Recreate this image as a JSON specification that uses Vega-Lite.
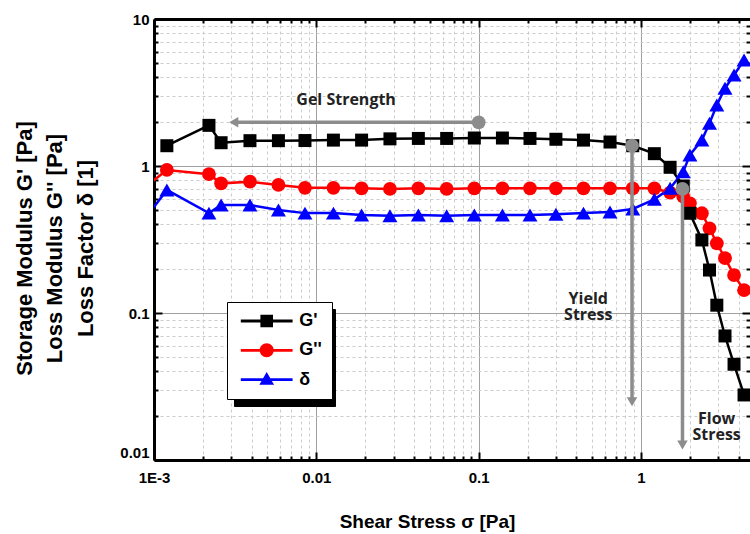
{
  "$schema": "https://vega.github.io/schema/vega-lite/v6.json",
  "autosize": {"type": "none"},
  "padding": {"left": 154, "top": 19, "right": 0, "bottom": 74},
  "width": 596,
  "height": 441,
  "background": "white",
  "config": {"view": {"stroke": null}, "font": "Liberation Sans"},
  "datasets": {
    "series": [
      {"s": "G'", "x": 0.0012, "y": 1.374}, {"s": "G'", "x": 0.00218, "y": 1.89}, {"s": "G'", "x": 0.00259, "y": 1.44},
      {"s": "G'", "x": 0.0039, "y": 1.487}, {"s": "G'", "x": 0.00584, "y": 1.487}, {"s": "G'", "x": 0.00851, "y": 1.49},
      {"s": "G'", "x": 0.01274, "y": 1.5}, {"s": "G'", "x": 0.019, "y": 1.5}, {"s": "G'", "x": 0.0284, "y": 1.53},
      {"s": "G'", "x": 0.0425, "y": 1.54}, {"s": "G'", "x": 0.0635, "y": 1.54}, {"s": "G'", "x": 0.094, "y": 1.55},
      {"s": "G'", "x": 0.14, "y": 1.55}, {"s": "G'", "x": 0.207, "y": 1.54}, {"s": "G'", "x": 0.299, "y": 1.52},
      {"s": "G'", "x": 0.442, "y": 1.5}, {"s": "G'", "x": 0.644, "y": 1.456}, {"s": "G'", "x": 0.889, "y": 1.374},
      {"s": "G'", "x": 1.208, "y": 1.213}, {"s": "G'", "x": 1.51, "y": 0.98}, {"s": "G'", "x": 1.82, "y": 0.731},
      {"s": "G'", "x": 2.0, "y": 0.477}, {"s": "G'", "x": 2.37, "y": 0.314}, {"s": "G'", "x": 2.64, "y": 0.196},
      {"s": "G'", "x": 2.93, "y": 0.113}, {"s": "G'", "x": 3.29, "y": 0.0698}, {"s": "G'", "x": 3.74, "y": 0.0448},
      {"s": "G'", "x": 4.31, "y": 0.0277},
      {"s": "G''", "x": 0.00081, "y": 0.665}, {"s": "G''", "x": 0.0012, "y": 0.94}, {"s": "G''", "x": 0.00218, "y": 0.88},
      {"s": "G''", "x": 0.00259, "y": 0.762}, {"s": "G''", "x": 0.0039, "y": 0.782}, {"s": "G''", "x": 0.00584, "y": 0.743},
      {"s": "G''", "x": 0.00851, "y": 0.711}, {"s": "G''", "x": 0.01274, "y": 0.711}, {"s": "G''", "x": 0.019, "y": 0.705},
      {"s": "G''", "x": 0.0284, "y": 0.698}, {"s": "G''", "x": 0.0425, "y": 0.705}, {"s": "G''", "x": 0.0635, "y": 0.698},
      {"s": "G''", "x": 0.094, "y": 0.705}, {"s": "G''", "x": 0.14, "y": 0.705}, {"s": "G''", "x": 0.207, "y": 0.705},
      {"s": "G''", "x": 0.299, "y": 0.705}, {"s": "G''", "x": 0.442, "y": 0.705}, {"s": "G''", "x": 0.644, "y": 0.705},
      {"s": "G''", "x": 0.889, "y": 0.705}, {"s": "G''", "x": 1.208, "y": 0.705}, {"s": "G''", "x": 1.51, "y": 0.658},
      {"s": "G''", "x": 1.82, "y": 0.618}, {"s": "G''", "x": 2.0, "y": 0.557}, {"s": "G''", "x": 2.37, "y": 0.477},
      {"s": "G''", "x": 2.64, "y": 0.377}, {"s": "G''", "x": 2.93, "y": 0.298}, {"s": "G''", "x": 3.29, "y": 0.236},
      {"s": "G''", "x": 3.74, "y": 0.181}, {"s": "G''", "x": 4.31, "y": 0.143},
      {"s": "δ", "x": 0.00081, "y": 0.386}, {"s": "δ", "x": 0.0012, "y": 0.687}, {"s": "δ", "x": 0.00218, "y": 0.478},
      {"s": "δ", "x": 0.00259, "y": 0.543}, {"s": "δ", "x": 0.0039, "y": 0.543}, {"s": "δ", "x": 0.00584, "y": 0.502},
      {"s": "δ", "x": 0.00851, "y": 0.478}, {"s": "δ", "x": 0.01274, "y": 0.478}, {"s": "δ", "x": 0.019, "y": 0.464},
      {"s": "δ", "x": 0.0284, "y": 0.458}, {"s": "δ", "x": 0.0425, "y": 0.464}, {"s": "δ", "x": 0.0635, "y": 0.458},
      {"s": "δ", "x": 0.094, "y": 0.464}, {"s": "δ", "x": 0.14, "y": 0.464}, {"s": "δ", "x": 0.207, "y": 0.464},
      {"s": "δ", "x": 0.299, "y": 0.47}, {"s": "δ", "x": 0.442, "y": 0.478}, {"s": "δ", "x": 0.644, "y": 0.487},
      {"s": "δ", "x": 0.889, "y": 0.51}, {"s": "δ", "x": 1.208, "y": 0.593}, {"s": "δ", "x": 1.51, "y": 0.705},
      {"s": "δ", "x": 1.82, "y": 0.915}, {"s": "δ", "x": 2.0, "y": 1.19}, {"s": "δ", "x": 2.37, "y": 1.5},
      {"s": "δ", "x": 2.64, "y": 1.95}, {"s": "δ", "x": 2.93, "y": 2.6}, {"s": "δ", "x": 3.29, "y": 3.38},
      {"s": "δ", "x": 3.74, "y": 4.16}, {"s": "δ", "x": 4.31, "y": 5.26}
    ],
    "arrows": [
      {"x": 0.1, "y": 1.983, "x2": 0.0031, "y2": 1.983, "head": "left"},
      {"x": 0.88, "y": 1.374, "x2": 0.88, "y2": 0.0249, "head": "down"},
      {"x": 1.8, "y": 0.698, "x2": 1.8, "y2": 0.01265, "head": "down"}
    ],
    "notes": [
      {"t": ["Gel Strength"], "x": 0.01525, "y": 2.81},
      {"t": ["Yield", "Stress"], "x": 0.473, "y": 0.1245},
      {"t": ["Flow", "Stress"], "x": 2.92, "y": 0.019}
    ]
  },
  "resolve": {"axis": {"x": "independent", "y": "independent"}},
  "layer": [
    {
      "data": {"name": "series"},
      "transform": [{"filter": {"field": "s", "equal": "G''"}}],
      "mark": {"type": "line", "clip": true, "strokeWidth": 2.5, "color": "#ff0000"},
      "encoding": {
        "x": {
          "field": "x", "type": "quantitative",
          "scale": {"type": "log", "domain": [0.001, 4.69], "nice": false},
          "axis": {
            "orient": "bottom",
            "values": [0.001, 0.002, 0.003, 0.004, 0.005, 0.006, 0.007, 0.008, 0.009, 0.01, 0.02, 0.03, 0.04, 0.05, 0.06, 0.07, 0.08, 0.09, 0.1, 0.2, 0.3, 0.4, 0.5, 0.6, 0.7, 0.8, 0.9, 1, 2, 3, 4],
            "labelExpr": "abs(log(datum.value)/LN10 - round(log(datum.value)/LN10)) < 0.01 ? (datum.value < 0.0015 ? '1E-3' : format(datum.value, '~g')) : ''",
            "labelOverlap": false,
            "labelFlush": false,
            "labelFont": "Liberation Sans", "labelFontSize": 15, "labelFontWeight": "bold", "labelColor": "black",
            "labelPadding": 18,
            "domainColor": "black", "domainWidth": 3,
            "tickColor": "black", "tickWidth": 2,
            "tickSize": {"condition": {"test": "abs(log(datum.value)/LN10 - round(log(datum.value)/LN10)) < 0.01", "value": -8}, "value": -4},
            "grid": true,
            "gridColor": {"condition": {"test": "abs(log(datum.value)/LN10 - round(log(datum.value)/LN10)) < 0.01", "value": "#a0a0a0"}, "value": "#cccccc"},
            "gridDash": {"condition": {"test": "abs(log(datum.value)/LN10 - round(log(datum.value)/LN10)) < 0.01", "value": []}, "value": [3, 3]},
            "gridWidth": 1,
            "title": "Shear Stress σ [Pa]",
            "titleFont": "Liberation Sans", "titleFontSize": 19, "titleFontWeight": "bold", "titleColor": "black",
            "titleX": 273, "titleY": 67, "titleAlign": "center", "titleBaseline": "alphabetic"
          }
        },
        "y": {
          "field": "y", "type": "quantitative",
          "scale": {"type": "log", "domain": [0.01, 10], "nice": false},
          "axis": {
            "orient": "left",
            "values": [0.01, 0.02, 0.03, 0.04, 0.05, 0.06, 0.07, 0.08, 0.09, 0.1, 0.2, 0.3, 0.4, 0.5, 0.6, 0.7, 0.8, 0.9, 1, 2, 3, 4, 5, 6, 7, 8, 9, 10],
            "labelExpr": "abs(log(datum.value)/LN10 - round(log(datum.value)/LN10)) < 0.01 ? format(datum.value, '~g') : ''",
            "labelOverlap": false,
            "labelFlush": false,
            "labelFont": "Liberation Sans", "labelFontSize": 15, "labelFontWeight": "bold", "labelColor": "black",
            "labelPadding": 13,
            "labelBaseline": {"condition": {"test": "datum.value < 0.015", "value": "bottom"}, "value": "middle"},
            "domainColor": "black", "domainWidth": 3,
            "tickColor": "black", "tickWidth": 2,
            "tickSize": {"condition": {"test": "abs(log(datum.value)/LN10 - round(log(datum.value)/LN10)) < 0.01", "value": -8}, "value": -4},
            "grid": true,
            "gridColor": {"condition": {"test": "abs(log(datum.value)/LN10 - round(log(datum.value)/LN10)) < 0.01", "value": "#a0a0a0"}, "value": "#cccccc"},
            "gridDash": {"condition": {"test": "abs(log(datum.value)/LN10 - round(log(datum.value)/LN10)) < 0.01", "value": []}, "value": [3, 3]},
            "gridWidth": 1,
            "title": ["Storage Modulus G'  [Pa]", "Loss Modulus G''  [Pa]", "Loss Factor δ  [1]"],
            "titleFont": "Liberation Sans", "titleFontSize": 22, "titleFontWeight": "bold", "titleColor": "black",
            "titleLineHeight": 30.5,
            "titleX": -130, "titleY": 229, "titleAngle": -90, "titleAlign": "center", "titleBaseline": "middle"
          }
        }
      }
    },
    {
      "data": {"name": "series"},
      "transform": [{"filter": {"field": "s", "equal": "G'"}}],
      "mark": {"type": "line", "clip": true, "strokeWidth": 2.5, "color": "#000000"},
      "encoding": {
        "x": {"field": "x", "type": "quantitative", "scale": {"type": "log", "domain": [0.001, 4.69], "nice": false}, "axis": null},
        "y": {"field": "y", "type": "quantitative", "scale": {"type": "log", "domain": [0.01, 10], "nice": false}, "axis": null}
      }
    },
    {
      "data": {"name": "series"},
      "transform": [{"filter": {"field": "s", "equal": "δ"}}],
      "mark": {"type": "line", "clip": true, "strokeWidth": 2.5, "color": "#0000ff"},
      "encoding": {
        "x": {"field": "x", "type": "quantitative", "scale": {"type": "log", "domain": [0.001, 4.69], "nice": false}, "axis": null},
        "y": {"field": "y", "type": "quantitative", "scale": {"type": "log", "domain": [0.01, 10], "nice": false}, "axis": null}
      }
    },
    {
      "data": {"name": "series"},
      "transform": [{"filter": {"field": "s", "equal": "G''"}}],
      "mark": {"type": "point", "shape": "circle", "filled": true, "opacity": 1, "color": "#ff0000", "size": 190, "clip": true},
      "encoding": {
        "x": {"field": "x", "type": "quantitative", "scale": {"type": "log", "domain": [0.001, 4.69], "nice": false}, "axis": null},
        "y": {"field": "y", "type": "quantitative", "scale": {"type": "log", "domain": [0.01, 10], "nice": false}, "axis": null}
      }
    },
    {
      "data": {"name": "series"},
      "transform": [{"filter": {"field": "s", "equal": "G'"}}],
      "mark": {"type": "point", "shape": "square", "filled": true, "opacity": 1, "color": "#000000", "size": 169, "clip": true},
      "encoding": {
        "x": {"field": "x", "type": "quantitative", "scale": {"type": "log", "domain": [0.001, 4.69], "nice": false}, "axis": null},
        "y": {"field": "y", "type": "quantitative", "scale": {"type": "log", "domain": [0.01, 10], "nice": false}, "axis": null}
      }
    },
    {
      "data": {"name": "series"},
      "transform": [{"filter": {"field": "s", "equal": "δ"}}],
      "mark": {"type": "point", "shape": "triangle-up", "filled": true, "opacity": 1, "color": "#0000ff", "size": 225, "clip": true},
      "encoding": {
        "x": {"field": "x", "type": "quantitative", "scale": {"type": "log", "domain": [0.001, 4.69], "nice": false}, "axis": null},
        "y": {"field": "y", "type": "quantitative", "scale": {"type": "log", "domain": [0.01, 10], "nice": false}, "axis": null}
      }
    },
    {
      "data": {"name": "arrows"},
      "mark": {"type": "rule", "color": "#8c8c8c", "strokeWidth": 3.5},
      "encoding": {
        "x": {"field": "x", "type": "quantitative", "scale": {"type": "log", "domain": [0.001, 4.69], "nice": false}, "axis": null},
        "y": {"field": "y", "type": "quantitative", "scale": {"type": "log", "domain": [0.01, 10], "nice": false}, "axis": null},
        "x2": {"field": "x2"},
        "y2": {"field": "y2"}
      }
    },
    {
      "data": {"name": "arrows"},
      "mark": {"type": "point", "shape": "circle", "filled": true, "opacity": 1, "color": "#8c8c8c", "size": 190},
      "encoding": {
        "x": {"field": "x", "type": "quantitative", "scale": {"type": "log", "domain": [0.001, 4.69], "nice": false}, "axis": null},
        "y": {"field": "y", "type": "quantitative", "scale": {"type": "log", "domain": [0.01, 10], "nice": false}, "axis": null}
      }
    },
    {
      "data": {"name": "arrows"},
      "transform": [{"filter": {"field": "head", "equal": "left"}}],
      "mark": {"type": "point", "shape": "triangle-left", "filled": true, "opacity": 1, "color": "#8c8c8c", "size": 110},
      "encoding": {
        "x": {"field": "x2", "type": "quantitative", "scale": {"type": "log", "domain": [0.001, 4.69], "nice": false}, "axis": null},
        "y": {"field": "y2", "type": "quantitative", "scale": {"type": "log", "domain": [0.01, 10], "nice": false}, "axis": null}
      }
    },
    {
      "data": {"name": "arrows"},
      "transform": [{"filter": {"field": "head", "equal": "down"}}],
      "mark": {"type": "point", "shape": "triangle-down", "filled": true, "opacity": 1, "color": "#8c8c8c", "size": 110},
      "encoding": {
        "x": {"field": "x2", "type": "quantitative", "scale": {"type": "log", "domain": [0.001, 4.69], "nice": false}, "axis": null},
        "y": {"field": "y2", "type": "quantitative", "scale": {"type": "log", "domain": [0.01, 10], "nice": false}, "axis": null}
      }
    },
    {
      "data": {"name": "notes"},
      "mark": {"type": "text", "font": "Open Sans", "fontSize": 16, "fontWeight": "bold", "color": "#222222", "align": "center", "baseline": "middle", "lineHeight": 16},
      "encoding": {
        "x": {"field": "x", "type": "quantitative", "scale": {"type": "log", "domain": [0.001, 4.69], "nice": false}, "axis": null},
        "y": {"field": "y", "type": "quantitative", "scale": {"type": "log", "domain": [0.01, 10], "nice": false}, "axis": null},
        "text": {"field": "t"}
      }
    },
    {
      "data": {"name": "series"},
      "mark": {"type": "point", "filled": true, "opacity": 0},
      "encoding": {
        "x": {"field": "x", "type": "quantitative", "scale": {"type": "log", "domain": [0.001, 4.69], "nice": false}, "axis": null},
        "y": {"field": "y", "type": "quantitative", "scale": {"type": "log", "domain": [0.01, 10], "nice": false}, "axis": null},
        "size": {
          "field": "s", "type": "ordinal",
          "scale": {"domain": ["G'.", "G''.", "δ."], "range": [196, 196, 196]},
          "legend": {"orient": "none", "legendX": 80, "legendY": 290, "zindex": 1, "title": null, "fillColor": "black", "strokeColor": "black", "padding": 10, "symbolOffset": 20.7, "labelOffset": 41.5, "rowPadding": 11.3, "symbolSize": 196, "symbolType": "M-3.7,-0.2H3.7V0.2H-3.7Z", "symbolStrokeWidth": 0, "symbolOpacity": 1, "symbolFillColor": "black", "labelExpr": "' '", "labelFont": "Liberation Sans", "labelFontSize": 18, "labelFontWeight": "bold", "labelColor": "black"}
        }
      }
    },
    {
      "data": {"name": "series"},
      "mark": {"type": "point", "filled": true, "opacity": 0},
      "encoding": {
        "x": {
          "field": "x", "type": "quantitative",
          "scale": {"type": "log", "domain": [0.001, 4.69], "nice": false},
          "axis": {
            "orient": "top",
            "values": [0.001, 0.002, 0.003, 0.004, 0.005, 0.006, 0.007, 0.008, 0.009, 0.01, 0.02, 0.03, 0.04, 0.05, 0.06, 0.07, 0.08, 0.09, 0.1, 0.2, 0.3, 0.4, 0.5, 0.6, 0.7, 0.8, 0.9, 1, 2, 3, 4],
            "labels": false, "grid": false, "title": null,
            "domainColor": "black", "domainWidth": 3,
            "tickColor": "black", "tickWidth": 2,
            "tickSize": {"condition": {"test": "abs(log(datum.value)/LN10 - round(log(datum.value)/LN10)) < 0.01", "value": -8}, "value": -4}
          }
        },
        "y": {
          "field": "y", "type": "quantitative",
          "scale": {"type": "log", "domain": [0.01, 10], "nice": false},
          "axis": {
            "orient": "right",
            "values": [0.01, 0.02, 0.03, 0.04, 0.05, 0.06, 0.07, 0.08, 0.09, 0.1, 0.2, 0.3, 0.4, 0.5, 0.6, 0.7, 0.8, 0.9, 1, 2, 3, 4, 5, 6, 7, 8, 9, 10],
            "labels": false, "grid": false, "title": null, "domain": false,
            "tickColor": "black", "tickWidth": 2,
            "tickSize": {"condition": {"test": "abs(log(datum.value)/LN10 - round(log(datum.value)/LN10)) < 0.01", "value": -8}, "value": -4}
          }
        },
        "color": {
          "field": "s", "type": "nominal",
          "scale": {"domain": ["G'", "G''", "δ"], "range": ["#000000", "#ff0000", "#0000ff"]},
          "legend": {"orient": "none", "legendX": 73, "legendY": 283, "zindex": 2, "title": null, "fillColor": "white", "strokeColor": "black", "padding": 10, "symbolOffset": 20.7, "labelOffset": 23.5, "rowPadding": 11.3, "symbolSize": 196, "symbolStrokeWidth": 0, "symbolOpacity": 1, "labelFont": "Liberation Sans", "labelFontSize": 18, "labelFontWeight": "bold", "labelColor": "black"}
        },
        "shape": {
          "field": "s", "type": "nominal",
          "scale": {"domain": ["G'", "G''", "δ"], "range": ["M-3.7,-0.2H3.7V0.2H-3.7ZM-0.9,-0.9H0.9V0.9H-0.9Z", "M-3.7,-0.2H3.7V0.2H-3.7ZM-1,0A1,1,0,1,1,1,0A1,1,0,1,1,-1,0Z", "M-3.7,-0.2H3.7V0.2H-3.7ZM0,-1.1L1.05,0.75L-1.05,0.75Z"]},
          "legend": {"orient": "none", "legendX": 73, "legendY": 283, "zindex": 2, "title": null, "fillColor": "white", "strokeColor": "black", "padding": 10, "symbolOffset": 20.7, "labelOffset": 23.5, "rowPadding": 11.3, "symbolSize": 196, "symbolStrokeWidth": 0, "symbolOpacity": 1, "labelFont": "Liberation Sans", "labelFontSize": 18, "labelFontWeight": "bold", "labelColor": "black"}
        }
      }
    }
  ]
}
